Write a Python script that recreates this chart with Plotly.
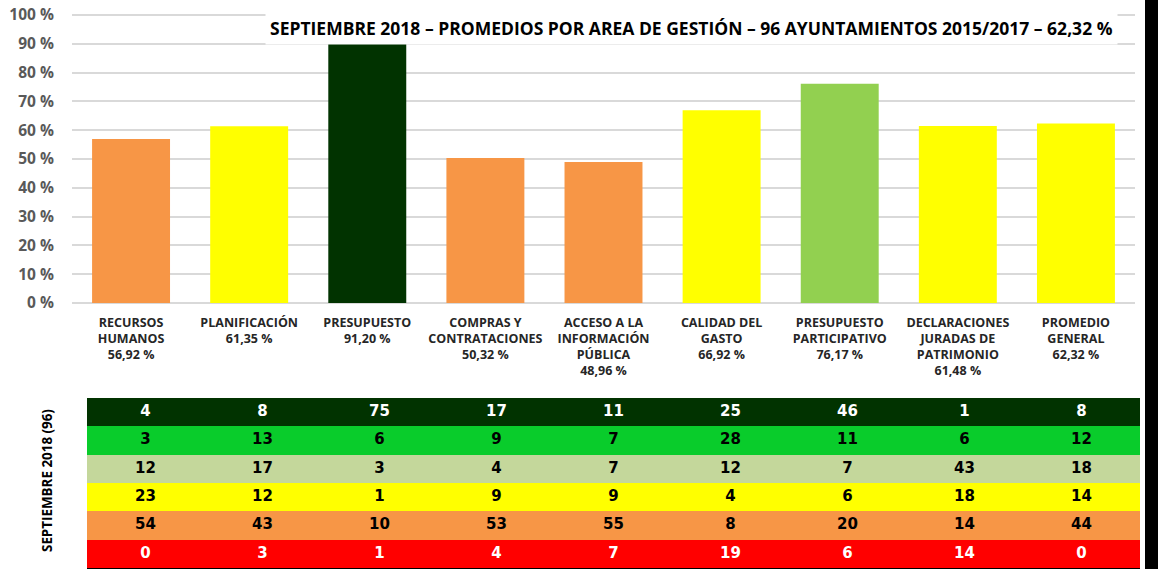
import plotly.graph_objects as go

# ---------------- data ----------------
area_names = [
    "RECURSOS<br>HUMANOS", "PLANIFICACIÓN", "PRESUPUESTO", "COMPRAS Y<br>CONTRATACIONES",
    "ACCESO A LA<br>INFORMACIÓN<br>PÚBLICA", "CALIDAD DEL<br>GASTO", "PRESUPUESTO<br>PARTICIPATIVO",
    "DECLARACIONES<br>JURADAS DE<br>PATRIMONIO", "PROMEDIO<br>GENERAL",
]
area_values = [56.92, 61.35, 91.20, 50.32, 48.96, 66.92, 76.17, 61.48, 62.32]
bar_colors = ["#F79646", "#FFFF00", "#013300", "#F79646", "#F79646",
              "#FFFF00", "#92D050", "#FFFF00", "#FFFF00"]

y_ticks = [0, 10, 20, 30, 40, 50, 60, 70, 80, 90, 100]

row_colors = ["#013300", "#09CC2B", "#C4D79B", "#FFFF00", "#F79646", "#FF0000"]
row_text_colors = ["white", "black", "black", "black", "black", "white"]
row_dark_green = [4, 8, 75, 17, 11, 25, 46, 1, 8]
row_green = [3, 13, 6, 9, 7, 28, 11, 6, 12]
row_sage = [12, 17, 3, 4, 7, 12, 7, 43, 18]
row_yellow = [23, 12, 1, 9, 9, 4, 6, 18, 14]
row_orange = [54, 43, 10, 53, 55, 8, 20, 14, 44]
row_red = [0, 3, 1, 4, 7, 19, 6, 14, 0]
table_rows = [row_dark_green, row_green, row_sage, row_yellow, row_orange, row_red]

title_text = "SEPTIEMBRE 2018 – PROMEDIOS POR AREA DE GESTIÓN – 96 AYUNTAMIENTOS 2015/2017 – 62,32 %"
side_label = "SEPTIEMBRE 2018 (96)"

# ---------------- figure ----------------
W, H = 1158, 569


def fmt_pct(v):
    return f"{v:.2f}".replace(".", ",") + " %"


cat_labels = [f"{n}<br>{fmt_pct(v)}" for n, v in zip(area_names, area_values)]
ncat = len(area_values)

fig = go.Figure()
fig.add_trace(go.Bar(
    x=list(range(ncat)), y=area_values, marker=dict(color=bar_colors, line=dict(width=0)),
    hoverinfo="skip", xaxis="x", yaxis="y",
))

# table cells
nrows = len(table_rows)
z = [[r] * ncat for r in range(nrows)]
cs = []
for i, c in enumerate(row_colors):
    cs.append([i / (nrows - 1), c])
fig.add_trace(go.Heatmap(
    z=z, x=list(range(ncat)), y=list(range(nrows)), colorscale=cs, zmin=0, zmax=nrows - 1,
    showscale=False, hoverinfo="skip", xaxis="x2", yaxis="y2",
))
tx, ty, tt, tc = [], [], [], []
for r, row in enumerate(table_rows):
    for c, v in enumerate(row):
        tx.append(c)
        ty.append(r)
        tt.append(str(v))
        tc.append(row_text_colors[r])
fig.add_trace(go.Scatter(
    x=tx, y=ty, text=tt, mode="text", xaxis="x2", yaxis="y2",
    textfont=dict(family="DejaVu Sans", size=15, color=tc, weight="bold"),
    hoverinfo="skip", cliponaxis=False,
))

px_per_unit = (303 - 15) / 100.0
y_top_val = 101
y_dom_bot = 1 - 303 / H
y_dom_top = 1 - (303 - y_top_val * px_per_unit) / H

fig.update_layout(
    width=W, height=H,
    margin=dict(l=0, r=0, t=0, b=0, autoexpand=False),
    paper_bgcolor="white", plot_bgcolor="white",
    showlegend=False, bargap=0.34,
    xaxis=dict(
        domain=[72 / W, 1135 / W], range=[-0.5, ncat - 0.5],
        tickmode="array", tickvals=list(range(ncat)), ticktext=cat_labels,
        tickfont=dict(family="Open Sans", size=12.5, color="#262626", weight="bold"),
        ticklabelstandoff=10,
        showgrid=False, zeroline=False, showline=False, ticks="", fixedrange=True,
        automargin=False,
    ),
    yaxis=dict(
        domain=[y_dom_bot, y_dom_top], range=[0, y_top_val],
        tickmode="array", tickvals=y_ticks, ticktext=[f"{t} %" for t in y_ticks],
        tickfont=dict(family="Open Sans", size=15.5, color="#595959", weight="bold"),
        showgrid=True, gridcolor="#D9D9D9", gridwidth=2,
        zeroline=True, zerolinecolor="#D9D9D9", zerolinewidth=2,
        showline=False, ticks="outside", ticklen=14, tickcolor="rgba(0,0,0,0)",
        automargin=False, fixedrange=True,
    ),
    xaxis2=dict(
        domain=[87 / W, 1140 / W], range=[-0.5, ncat - 0.5], anchor="y2",
        showticklabels=False, showgrid=False, zeroline=False,
        showline=True, linecolor="black", linewidth=1, ticks="", fixedrange=True,
    ),
    yaxis2=dict(
        domain=[1 - 568 / H, 1 - 398 / H], range=[nrows - 0.5, -0.5], anchor="x2",
        showticklabels=False, showgrid=False, zeroline=False, showline=False,
        ticks="", fixedrange=True,
    ),
    shapes=[dict(type="rect", xref="paper", yref="paper", x0=1145 / W, x1=1, y0=0, y1=1,
                 fillcolor="black", line=dict(width=0), layer="above")],
    annotations=[
        dict(text=title_text, xref="paper", yref="paper", x=691 / W, y=1 - 28 / H,
             xanchor="center", yanchor="middle", showarrow=False, bgcolor="white",
             borderpad=4,
             font=dict(family="Open Sans", size=17.5, color="black", weight="bold")),
        dict(text=side_label, xref="paper", yref="paper", x=47 / W, y=1 - 481 / H,
             xanchor="center", yanchor="middle", showarrow=False, textangle=-90,
             font=dict(family="Open Sans", size=13.4, color="black", weight="bold")),
    ],
)

fig.write_html(
    "out.html",
    config={"displayModeBar": False},
    post_script="document.body.style.margin='0';document.body.style.overflow='hidden';",
)
